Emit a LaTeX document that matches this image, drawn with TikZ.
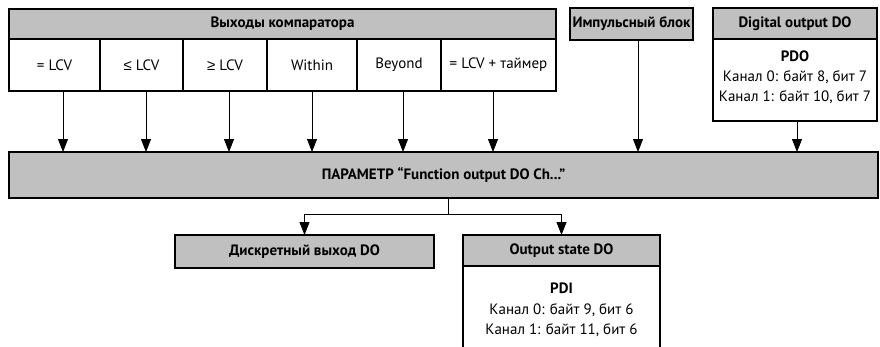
\documentclass[tikz,border=0pt]{standalone}
\usepackage{fontspec}
\setmainfont{PT Sans}
\newfontfamily\mathsymfont{Liberation Sans}
\usetikzlibrary{arrows.meta}
\definecolor{boxgray}{RGB}{192,192,192}
\newcommand{\txtsize}{\fontsize{15}{18}\selectfont}
\begin{document}
\begin{tikzpicture}[x=1pt,y=-1pt,
  every node/.style={inner sep=0pt, outer sep=0pt, font=\txtsize},
  hdr/.style={draw, line width=1.6pt, fill=boxgray, font=\txtsize\bfseries, anchor=north west},
  cell/.style={draw, line width=1.6pt, fill=white, anchor=north west},
  link/.style={line width=0.8pt},
  arr/.style={link, -{Triangle[length=13pt,width=10pt]}}]
\useasboundingbox (0,0) rectangle (880,346);
\clip (0,0) rectangle (880,346);

% comparator outputs
\node[hdr, minimum width=547pt, minimum height=30pt] (cmp) at (9,9) {Выходы компаратора};
\node[cell, minimum width=91pt, minimum height=52pt] (c1) at (9,39) {= LCV};
\node[cell, minimum width=83pt, minimum height=52pt] (c2) at (100,39) {{\mathsymfont ≤} LCV};
\node[cell, minimum width=84pt, minimum height=52pt] (c3) at (183,39) {{\mathsymfont ≥} LCV};
\node[cell, minimum width=90pt, minimum height=52pt] (c4) at (267,39) {Within};
\node[cell, minimum width=84pt, minimum height=52pt] (c5) at (357,39) {Beyond};
\node[cell, minimum width=115pt, minimum height=52pt] (c6) at (441,39) {= LCV + таймер};

% pulse block
\node[hdr, minimum width=123pt, minimum height=32pt] (imp) at (570,8) {Импульсный блок};

% digital output
\node[cell, minimum width=164pt, minimum height=82pt] (dbody) at (713,39) {};
\node[hdr, minimum width=164pt, minimum height=31pt] (dout) at (713,8) {Digital output DO};
\node[font=\txtsize\bfseries] (pdo) at (795,56) {PDO};
\node (pdo1) at (795,77) {Канал 0: байт 8, бит 7};
\node (pdo2) at (795,97) {Канал 1: байт 10, бит 7};

% parameter bar
\node[hdr, minimum width=869pt, minimum height=46pt] (par) at (9,152) {ПАРАМЕТР “Function output DO Ch...”};

% outputs
\node[hdr, minimum width=259pt, minimum height=33pt] (disc) at (175,235) {Дискретный выход DO};
\node[cell, minimum width=197pt, minimum height=100pt] (obody) at (463,266) {};
\node[hdr, minimum width=197pt, minimum height=31pt] (os) at (463,235) {Output state DO};
\node[font=\txtsize\bfseries] (pdi) at (561.5,288) {PDI};
\node (pdi1) at (561.5,310) {Канал 0: байт 9, бит 6};
\node (pdi2) at (561.5,330) {Канал 1: байт 11, бит 6};

% inputs to the parameter
\draw[arr] ([xshift=8.5pt]c1.south) -- ([xshift=8.5pt]c1.south |- par.north);
\draw[arr] ([xshift=4.5pt]c2.south) -- ([xshift=4.5pt]c2.south |- par.north);
\draw[arr] ([xshift=4pt]c3.south) -- ([xshift=4pt]c3.south |- par.north);
\draw[arr] (c4.south) -- (c4.south |- par.north);
\draw[arr] ([xshift=4pt]c5.south) -- ([xshift=4pt]c5.south |- par.north);
\draw[arr] ([xshift=-5.5pt]c6.south) -- ([xshift=-5.5pt]c6.south |- par.north);
\draw[arr] ([xshift=6.5pt]imp.south) -- ([xshift=6.5pt]imp.south |- par.north);
\draw[arr] ([xshift=2pt]dbody.south) -- ([xshift=2pt]dbody.south |- par.north);

% split to the outputs
\coordinate (split) at (448,214);
\draw[link] (par.south -| split) -- (split);
\draw[arr] (split) -| (disc.north);
\draw[arr] (split) -| (os.north);
\end{tikzpicture}
\end{document}
